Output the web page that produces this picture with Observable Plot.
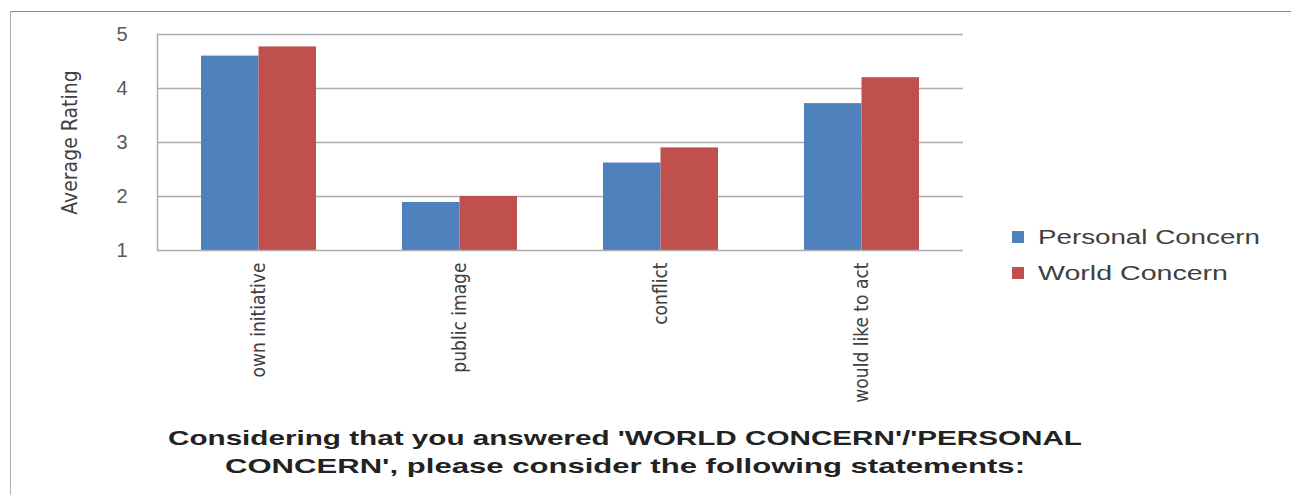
<!DOCTYPE html>
<html>
<head>
<meta charset="utf-8">
<script src="https://cdn.jsdelivr.net/npm/d3@7"></script>
<script src="https://cdn.jsdelivr.net/npm/@observablehq/plot@0.6"></script>
<style>
  html, body { margin: 0; padding: 0; background: #fff; }
  #wrap { position: relative; width: 1291px; height: 495px; overflow: hidden; background: #fff; }
  #frame { position: absolute; left: 10px; top: 11px; right: -10px; bottom: -10px;
           border-top: 1.5px solid #8a8a8a; border-left: 1.5px solid #b0b0b0; pointer-events: none; }
  #chart { position: absolute; left: 0; top: 0; }
  #legend { position: absolute; left: 0; top: 0; }
  #title { position: absolute; left: 0; top: 420px; }
</style>
</head>
<body>
<div id="wrap">
  <div id="chart"></div>
  <svg id="legend" width="1291" height="420"></svg>
  <svg id="title" width="1291" height="75"></svg>
  <div id="frame"></div>
</div>
<script>
const categories = ["own initiative", "public image", "conflict", "would like to act"];
const seriesNames = ["Personal Concern", "World Concern"];
const personalConcern = [4.6, 1.89, 2.62, 3.72];
const worldConcern = [4.77, 2.0, 2.9, 4.2];
const seriesColors = ["#4f81bd", "#c0504d"];
const yTicks = [1, 2, 3, 4, 5];
const yLabel = "Average Rating";
const titleLines = [
  "Considering that you answered 'WORLD CONCERN'/'PERSONAL",
  "CONCERN', please consider the following statements:"
];

const data = categories.flatMap((c, i) => [
  {category: c, series: seriesNames[0], value: personalConcern[i]},
  {category: c, series: seriesNames[1], value: worldConcern[i]}
]);

const narrow = "'Liberation Sans Narrow', 'DejaVu Sans Condensed', 'Liberation Sans', sans-serif";
const base = yTicks[0];

const chart = Plot.plot({
  width: 1291,
  height: 420,
  marginLeft: 157,
  marginRight: 328,
  marginTop: 34,
  marginBottom: 170,
  style: {fontFamily: "'Liberation Sans', sans-serif", fontSize: "18px", color: "#595959", background: "transparent"},
  x: {domain: categories, paddingInner: 0.427, paddingOuter: 0.2135, axis: null},
  y: {domain: [yTicks[0], yTicks[yTicks.length - 1]], axis: null},
  color: {domain: seriesNames, range: seriesColors},
  marks: [
    Plot.gridY(yTicks.slice(1), {stroke: "#adadad", strokeOpacity: 1, strokeWidth: 1.5}),
    Plot.barY(data.filter(d => d.series === seriesNames[0]), {x: "category", y1: base, y2: "value", fill: "series", insetRight: 57.5}),
    Plot.barY(data.filter(d => d.series === seriesNames[1]), {x: "category", y1: base, y2: "value", fill: "series", insetLeft: 57.5}),
    Plot.ruleY([base], {stroke: "#adadad", strokeWidth: 1.5}),
    Plot.frame({anchor: "left", stroke: "#adadad", strokeWidth: 1.5}),
    Plot.axisY(yTicks, {tickSize: 0, tickPadding: 30, fontSize: 20, fill: "#595959", anchor: "left", label: null, tickFormat: "d"}),
    Plot.axisX({tickRotate: -90, tickSize: 0, tickPadding: 12, fontSize: 19, fill: "#404040", label: null, fontFamily: narrow}),
    Plot.text([yLabel], {frameAnchor: "left", dx: -87, rotate: -90, textAnchor: "middle", fontSize: 21, fill: "#404040", fontFamily: narrow})
  ]
});
document.getElementById("chart").appendChild(chart);

// Legend
const lg = d3.select("#legend");
const legendTextLen = [222, 190];
seriesNames.forEach((s, i) => {
  const cy = 237 + i * 36;
  lg.append("rect").attr("x", 1012).attr("y", cy - 6).attr("width", 12).attr("height", 12).attr("fill", seriesColors[i]);
  lg.append("text").attr("x", 1038).attr("y", cy + 7)
    .attr("font-family", "'Liberation Sans', sans-serif").attr("font-size", 20)
    .attr("fill", "#404040")
    .attr("textLength", legendTextLen[i]).attr("lengthAdjust", "spacingAndGlyphs")
    .text(s);
});

// Title
const tt = d3.select("#title");
const titleLen = [914, 800];
titleLines.forEach((t, i) => {
  tt.append("text").attr("x", 625).attr("y", 25 + i * 28)
    .attr("text-anchor", "middle")
    .attr("font-family", "'Liberation Sans', sans-serif").attr("font-weight", "bold").attr("font-size", 21)
    .attr("fill", "#222")
    .attr("textLength", titleLen[i]).attr("lengthAdjust", "spacingAndGlyphs")
    .text(t);
});
</script>
</body>
</html>
